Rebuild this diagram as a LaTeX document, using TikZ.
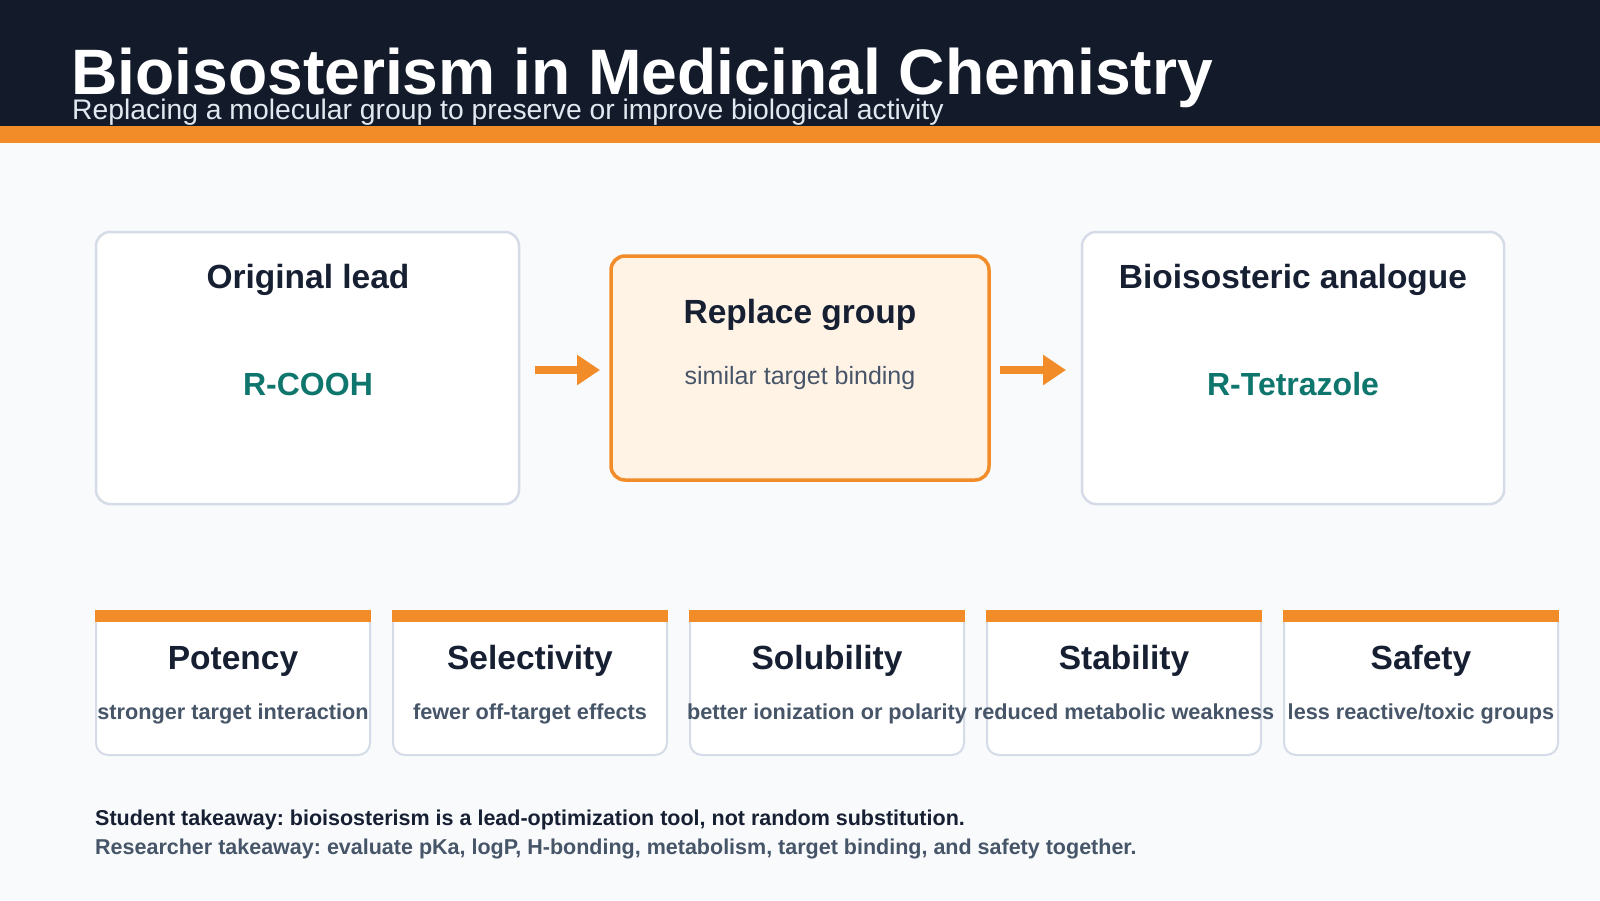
\documentclass[tikz,border=0pt]{standalone}
\usepackage{fontspec}
\setmainfont{Liberation Sans}
\usetikzlibrary{arrows.meta}
\definecolor{hdr}{HTML}{131A2A}
\definecolor{org}{HTML}{F28C28}
\definecolor{bg}{HTML}{F8FAFC}
\definecolor{bord}{HTML}{D5DCE7}
\definecolor{ink}{HTML}{172033}
\definecolor{tealc}{HTML}{0F766E}
\definecolor{subc}{HTML}{475569}
\definecolor{lightc}{HTML}{E2E8F0}
\definecolor{pale}{HTML}{FFF3E6}
\newcommand\myfs[1]{\fontsize{#1}{#1}\selectfont}
\frenchspacing
\tikzset{
  box/.style={draw=bord, line width=2.5pt, fill=white, rounded corners=14pt, outer sep=0pt, inner sep=0pt},
  hotbox/.style={draw=org, line width=3.5pt, fill=pale, rounded corners=14pt, outer sep=0pt, inner sep=0pt},
  card/.style={draw=bord, line width=2pt, fill=white, rounded corners=12pt, outer sep=0pt, inner sep=0pt, minimum width=274pt, minimum height=144pt},
  txt/.style={anchor=base, inner sep=0pt},
  bigt/.style={txt, text=ink, font=\myfs{33.5}\bfseries},
  chem/.style={txt, text=tealc, font=\myfs{32}\bfseries},
  cardt/.style={txt, text=ink, font=\myfs{33.5}\bfseries},
  cardd/.style={txt, text=subc, font=\myfs{21.7}\bfseries},
  foot/.style={anchor=base west, inner sep=0pt, font=\myfs{21.5}\bfseries},
  flow/.style={draw=org, line width=8pt, -{Triangle[length=23pt,width=29pt]}},
}
\begin{document}
\begin{tikzpicture}[x=1pt,y=-1pt]
\useasboundingbox (0,0) rectangle (1600,900);
\fill[bg] (0,0) rectangle (1600,900);
\fill[hdr] (0,0) rectangle (1600,126);
\fill[org] (0,126) rectangle (1600,143);
\node[anchor=base west, inner sep=0pt, text=white, font=\myfs{64.2}\bfseries] (title) at (71,94) {Bioisosterism in Medicinal Chemistry};
\node[anchor=base west, inner sep=0pt, text=lightc, font=\myfs{28.3}] (subtitle) at (72,119.5) {Replacing a molecular group to preserve or improve biological activity};

% top flow boxes
\node[box, minimum width=423pt, minimum height=272pt] (b1) at (307.5,368) {};
\node[hotbox, minimum width=378pt, minimum height=224pt] (b2) at (800,368) {};
\node[box, minimum width=422pt, minimum height=272pt] (b3) at (1293,368) {};

\node[bigt] (b1t) at (308,288) {Original lead};
\node[chem] (b1c) at (308,395) {R-COOH};
\node[bigt] (b2t) at (800,323) {Replace group};
\node[txt, text=subc, font=\myfs{25}] (b2d) at (800,384) {similar target binding};
\node[bigt] (b3t) at (1293,288) {Bioisosteric analogue};
\node[chem] (b3c) at (1293,395) {R-Tetrazole};

\draw[flow, shorten <=16pt, shorten >=11pt] ([yshift=-2pt]b1.east) -- ([yshift=-2pt]b2.west);
\draw[flow, shorten <=11pt, shorten >=16pt] ([yshift=-2pt]b2.east) -- ([yshift=-2pt]b3.west);

% bottom cards
\node[card] (c1) at (233,683) {};
\node[card] (c2) at (530,683) {};
\node[card] (c3) at (827,683) {};
\node[card] (c4) at (1124,683) {};
\node[card] (c5) at (1421,683) {};
\foreach \c in {c1,c2,c3,c4,c5}{
  \fill[org] ([xshift=-1pt,yshift=1pt]\c.north west) rectangle ([xshift=1pt,yshift=-11pt]\c.north east);
}
\node[cardt] (c1t) at (233,669) {Potency};
\node[cardd] (c1d) at (233,719) {stronger target interaction};
\node[cardt] (c2t) at (530,669) {Selectivity};
\node[cardd] (c2d) at (530,719) {fewer off-target effects};
\node[cardt] (c3t) at (827,669) {Solubility};
\node[cardd] (c3d) at (827,719) {better ionization or polarity};
\node[cardt] (c4t) at (1124,669) {Stability};
\node[cardd] (c4d) at (1124,719) {reduced metabolic weakness};
\node[cardt] (c5t) at (1421,669) {Safety};
\node[cardd] (c5d) at (1421,719) {less reactive/toxic groups};

% takeaways
\node[foot, text=ink] (stu) at (95,825) {Student takeaway: bioisosterism is a lead-optimization tool, not random substitution.};
\node[foot, text=subc] (res) at (95,854) {Researcher takeaway: evaluate pKa, logP, H-bonding, metabolism, target binding, and safety together.};
\end{tikzpicture}
\end{document}
